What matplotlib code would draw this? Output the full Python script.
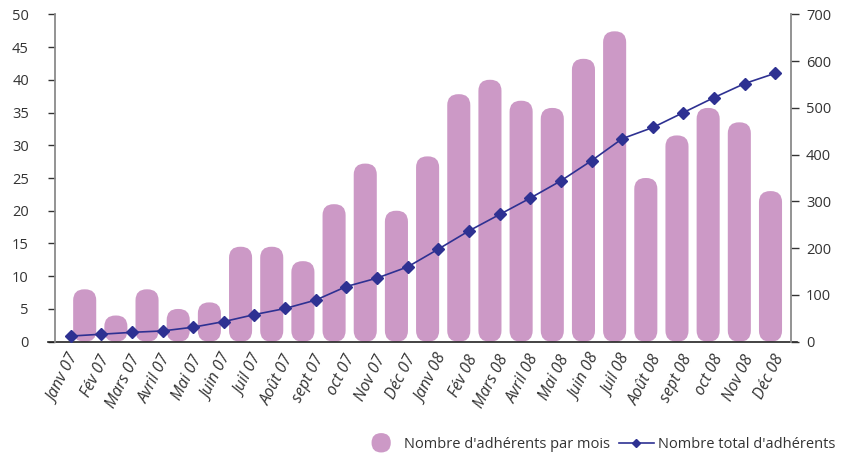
import matplotlib
matplotlib.use("Agg")
import matplotlib.pyplot as plt
import numpy as np
from matplotlib.patches import FancyBboxPatch, Patch
from matplotlib.lines import Line2D
from matplotlib.legend_handler import HandlerPatch
from matplotlib.transforms import ScaledTranslation

plt.rcParams['font.family'] = ['Open Sans', 'DejaVu Sans']

# data
months = ['Janv 07', 'Fév 07', 'Mars 07', 'Avril 07', 'Mai 07', 'Juin 07', 'Juil 07',
          'Août 07', 'sept 07', 'oct 07', 'Nov 07', 'Déc 07',
          'Janv 08', 'Fév 08', 'Mars 08', 'Avril 08', 'Mai 08', 'Juin 08', 'Juil 08',
          'Août 08', 'sept 08', 'oct 08', 'Nov 08', 'Déc 08']
monthly = [8, 4, 8, 5, 6, 14.5, 14.5, 12.3, 21, 27.2, 20, 28.3, 37.8, 40, 36.8,
           35.7, 43.2, 47.4, 25, 31.5, 35.7, 33.5, 23]
total = [12, 16, 20, 23, 31, 43, 58, 71, 89, 118, 136, 160, 198, 237, 272, 307,
         344, 387, 434, 458, 490, 522, 552, 574]

pink = '#CC99C6'
navy = '#2E3192'
grey = '#8a8a8a'
txt = '#333333'

W, H = 846, 455
fig = plt.figure(figsize=(W / 100, H / 100), dpi=100)
rect = [55.3 / W, (H - 341.7) / H, 735.4 / W, 327.4 / H]

# bars (left axis)
ax = fig.add_axes(rect)
bar_lim = (-0.943, 22.648)
ax.set_xlim(*bar_lim)
ax.set_ylim(0, 50)
bar_x = np.arange(len(monthly))
bars = ax.bar(bar_x, monthly, width=0.74, color=pink)

# rounded bar ends (radius in pixels converted to data units)
px_x = rect[2] * W / (bar_lim[1] - bar_lim[0])
px_y = rect[3] * H / 50
r = 11 / px_x
asp = (11 / px_y) / r
for b in bars:
    b.set_visible(False)
    fb = FancyBboxPatch((b.get_x(), b.get_y()), b.get_width(), b.get_height(),
                        boxstyle=f"round,pad=0,rounding_size={r}",
                        mutation_aspect=asp, facecolor=pink,
                        edgecolor='none')
    ax.add_patch(fb)

ax.set_xticks([])
ax.set_yticks(np.arange(0, 51, 5))
ax.tick_params(axis='y', length=5, width=1, color=txt, pad=14,
               labelsize=10.5, labelcolor=txt)
for s in ['top', 'right', 'bottom']:
    ax.spines[s].set_visible(False)
ax.spines['left'].set_color(grey)
ax.spines['left'].set_linewidth(1.3)
ax.axhline(0, xmin=-0.01, xmax=1.008, color='#222222', lw=1.2, clip_on=False)

# cumulative line (right axis)
ax2 = fig.add_axes(rect)
ax2.patch.set_visible(False)
ax2.set_xlim(-0.5, len(months) - 0.5)
ax2.set_ylim(0, 700)
ax2.plot(np.arange(len(total)), total, color=navy, lw=1.2, marker='D',
         markersize=6.5, clip_on=False)
ax2.yaxis.tick_right()
ax2.set_yticks(np.arange(0, 701, 100))
ax2.tick_params(axis='y', length=6, width=1, color=txt, pad=5,
                labelsize=10.5, labelcolor=txt)
ax2.set_xticks(np.arange(len(months)))
ax2.set_xticklabels(months, rotation=63, ha='right', style='italic',
                    fontsize=11.5, color=txt)
ax2.tick_params(axis='x', length=0, pad=7.5)
off = ScaledTranslation(0.12, 0, fig.dpi_scale_trans)
for lab in ax2.get_xticklabels():
    lab.set_transform(lab.get_transform() + off)
for s in ['top', 'left', 'bottom']:
    ax2.spines[s].set_visible(False)
ax2.spines['right'].set_color(grey)
ax2.spines['right'].set_linewidth(1.3)


def round_patch(legend, orig_handle, xdescent, ydescent, width, height, fontsize):
    return FancyBboxPatch((-xdescent + width * 0.2, -ydescent - height * 0.45),
                          width * 0.55, height * 1.9,
                          boxstyle="round,pad=0,rounding_size=7",
                          facecolor=pink, edgecolor='none')


handles = [Patch(facecolor=pink, label="Nombre d'adhérents par mois"),
           Line2D([], [], color=navy, marker='D', markersize=4, lw=1.2,
                  label="Nombre total d'adhérents")]
fig.legend(handles=handles, loc='lower right', bbox_to_anchor=(1.003, -0.022),
           ncol=2, frameon=False, fontsize=10.5, handlelength=2.4,
           columnspacing=0.6, handletextpad=0.3, labelcolor=txt,
           handler_map={Patch: HandlerPatch(patch_func=round_patch)})

fig.savefig('out.png', dpi=100)
